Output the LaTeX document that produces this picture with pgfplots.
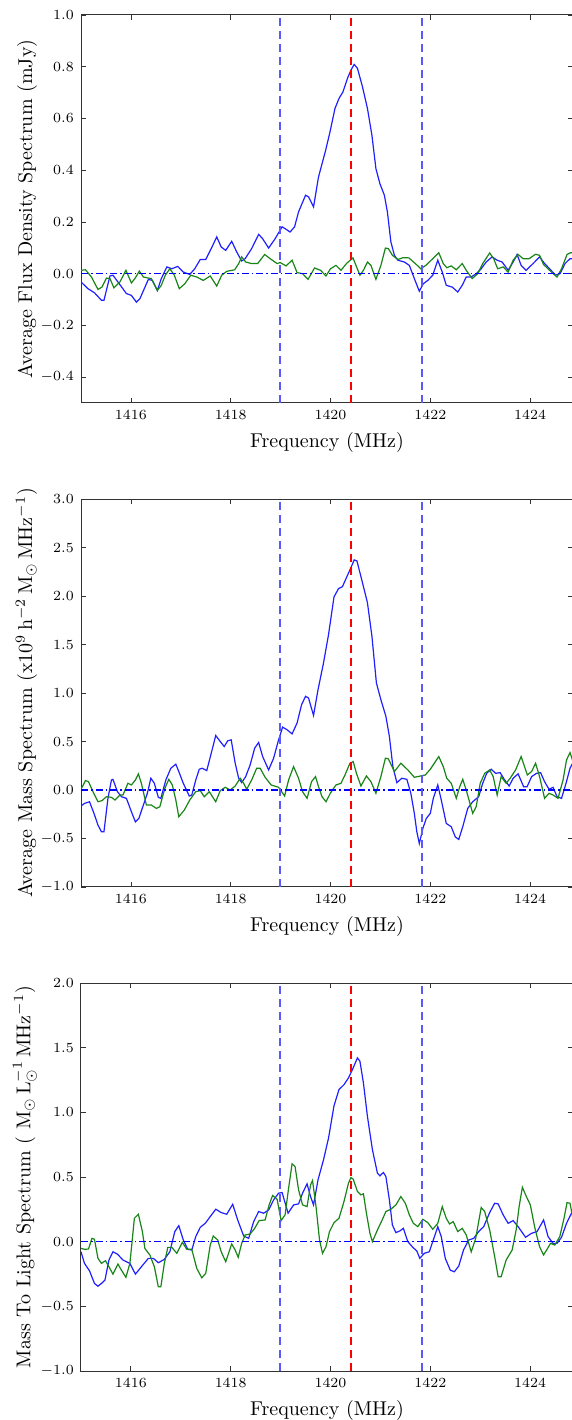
\documentclass[border=0pt]{standalone}
\usepackage{pgfplots}
\pgfplotsset{compat=1.18}

\definecolor{mplblue}{rgb}{0.12,0.12,1}
\definecolor{mplgreen}{rgb}{0.1,0.52,0.1}
\definecolor{lineblue}{rgb}{0.35,0.35,1}

\pgfplotsset{
  spec/.style={
    scale only axis, width=246pt, height=194pt,
    anchor=south west,
    xmin=1415, xmax=1424.86,
    xtick={1416,1418,1420,1422,1424},
    x tick label style={/pgf/number format/1000 sep={}},
    y tick label style={/pgf/number format/.cd, fixed, fixed zerofill, precision=1},
    tick label style={font=\fontsize{7}{8}\selectfont},
    label style={font=\fontsize{10}{12}\selectfont},
    xlabel={Frequency (MHz)},
    ylabel shift=-5pt,
    major tick length=2.5pt,
    tick style={black!80, line width=0.4pt},
    axis line style={black!80, line width=0.5pt},
    no markers,
  },
  curve/.style={line width=0.6pt},
  bound/.style={lineblue, line width=0.8pt, dash pattern=on 4pt off 2.5pt},
  centre/.style={red, line width=0.7pt, dash pattern=on 4pt off 2.5pt},
  zero/.style={blue, line width=0.8pt, dash pattern=on 3.5pt off 1.5pt on 0.8pt off 1.5pt},
}

\begin{document}
\begin{tikzpicture}
\path[use as bounding box] (0,0) rectangle (286pt,710pt);

% --- flux density ---
\begin{axis}[spec, at={(40.5pt,508.5pt)},
  ymin=-0.5, ymax=1.0, ytick={-0.4,-0.2,0,0.2,0.4,0.6,0.8,1.0},
  ylabel={Average Flux Density Spectrum (mJy)}]
\addplot[curve, mplblue] coordinates {
(1415.00,-0.032)(1415.14,-0.058)(1415.27,-0.074)(1415.41,-0.103)(1415.46,-0.103)(1415.58,-0.009)(1415.64,-0.006)(1415.74,-0.032)(1415.91,-0.077)(1416.01,-0.084)(1416.11,-0.110)(1416.18,-0.097)(1416.35,-0.022)(1416.43,-0.026)(1416.53,-0.065)(1416.61,-0.019)(1416.72,0.026)(1416.82,0.019)(1416.94,0.028)(1417.05,0.006)(1417.18,-0.003)(1417.28,0.019)(1417.39,0.055)(1417.50,0.055)(1417.61,0.097)(1417.72,0.142)(1417.81,0.103)(1417.90,0.090)(1418.02,0.125)(1418.12,0.084)(1418.22,0.049)(1418.29,0.058)(1418.42,0.097)(1418.56,0.152)(1418.64,0.135)(1418.76,0.099)(1418.89,0.135)(1419.03,0.181)(1419.09,0.174)(1419.19,0.161)(1419.28,0.181)(1419.36,0.239)(1419.50,0.303)(1419.56,0.297)(1419.66,0.258)(1419.76,0.374)(1419.90,0.475)(1419.99,0.548)(1420.09,0.639)(1420.17,0.677)(1420.25,0.703)(1420.34,0.755)(1420.41,0.787)(1420.475,0.809)(1420.54,0.794)(1420.64,0.723)(1420.74,0.639)(1420.83,0.535)(1420.91,0.406)(1420.99,0.348)(1421.08,0.303)(1421.14,0.239)(1421.21,0.123)(1421.28,0.071)(1421.35,0.052)(1421.48,0.045)(1421.58,0.032)(1421.68,-0.019)(1421.78,-0.068)(1421.86,-0.039)(1421.95,-0.026)(1422.05,-0.006)(1422.15,0.052)(1422.24,0.006)(1422.32,-0.045)(1422.44,-0.052)(1422.55,-0.071)(1422.64,-0.045)(1422.72,-0.013)(1422.82,-0.013)(1422.92,0.0)(1423.02,0.019)(1423.12,0.045)(1423.24,0.065)(1423.34,0.052)(1423.44,0.045)(1423.56,0.013)(1423.66,0.045)(1423.74,0.074)(1423.82,0.032)(1423.92,0.013)(1424.06,0.039)(1424.19,0.065)(1424.29,0.039)(1424.39,0.019)(1424.51,-0.006)(1424.60,0.0)(1424.70,0.039)(1424.80,0.058)(1424.87,0.058)
};
\addplot[curve, mplgreen] coordinates {
(1415.00,0.013)(1415.09,0.015)(1415.21,-0.013)(1415.34,-0.061)(1415.42,-0.052)(1415.51,-0.017)(1415.58,-0.019)(1415.66,-0.055)(1415.78,-0.032)(1415.90,0.013)(1416.01,-0.036)(1416.08,-0.019)(1416.17,0.010)(1416.25,-0.013)(1416.35,-0.017)(1416.41,-0.019)(1416.53,-0.065)(1416.61,-0.045)(1416.69,-0.006)(1416.78,0.019)(1416.87,-0.006)(1416.97,-0.058)(1417.08,-0.039)(1417.20,-0.006)(1417.32,-0.013)(1417.45,-0.026)(1417.59,-0.009)(1417.72,-0.048)(1417.82,-0.006)(1417.92,0.009)(1418.08,0.015)(1418.16,0.039)(1418.22,0.065)(1418.30,0.045)(1418.42,0.039)(1418.54,0.039)(1418.68,0.074)(1418.79,0.058)(1418.93,0.039)(1418.99,0.043)(1419.11,0.030)(1419.23,0.052)(1419.33,0.004)(1419.44,0.0)(1419.55,-0.022)(1419.68,0.022)(1419.80,0.013)(1419.91,-0.009)(1420.00,0.019)(1420.11,0.032)(1420.21,0.013)(1420.32,0.039)(1420.45,0.061)(1420.59,-0.006)(1420.66,0.013)(1420.74,0.045)(1420.81,0.032)(1420.91,-0.022)(1421.01,0.032)(1421.10,0.099)(1421.16,0.097)(1421.24,0.071)(1421.35,0.055)(1421.46,0.062)(1421.57,0.061)(1421.70,0.039)(1421.81,0.019)(1421.91,0.032)(1422.05,0.058)(1422.17,0.081)(1422.26,0.039)(1422.33,0.023)(1422.42,0.030)(1422.52,0.015)(1422.64,0.039)(1422.72,0.013)(1422.84,-0.019)(1422.95,0.0)(1423.05,0.039)(1423.19,0.080)(1423.27,0.058)(1423.35,0.019)(1423.46,0.026)(1423.56,0.006)(1423.66,0.052)(1423.76,0.074)(1423.86,0.058)(1423.98,0.058)(1424.11,0.075)(1424.19,0.071)(1424.27,0.035)(1424.36,0.019)(1424.46,0.0)(1424.54,-0.013)(1424.63,0.019)(1424.74,0.074)(1424.81,0.081)(1424.87,0.080)
};
\addplot[zero] coordinates {(1415,0) (1424.86,0)};
\addplot[bound] coordinates {(1418.99,-0.5) (1418.99,1.0)};
\addplot[bound] coordinates {(1421.83,-0.5) (1421.83,1.0)};
\addplot[centre] coordinates {(1420.41,-0.5) (1420.41,1.0)};
\end{axis}

% --- mass ---
\begin{axis}[spec, at={(40.5pt,266.5pt)},
  ymin=-1.0, ymax=3.0, ytick={-1.0,-0.5,0,0.5,1.0,1.5,2.0,2.5,3.0},
  ylabel={Average Mass Spectrum ($\mathrm{x10^{9}\,h^{-2}\,M_{\odot}\,MHz^{-1}}$)}]
\addplot[curve, mplblue] coordinates {
(1415.00,-0.166)(1415.07,-0.138)(1415.17,-0.121)(1415.26,-0.241)(1415.34,-0.362)(1415.41,-0.431)(1415.46,-0.431)(1415.54,-0.086)(1415.61,0.103)(1415.64,0.110)(1415.73,-0.017)(1415.81,-0.069)(1415.91,-0.086)(1416.01,-0.224)(1416.09,-0.328)(1416.16,-0.293)(1416.25,-0.155)(1416.33,-0.034)(1416.40,0.121)(1416.47,0.069)(1416.55,-0.076)(1416.60,-0.086)(1416.70,0.103)(1416.80,0.224)(1416.90,0.266)(1416.96,0.190)(1417.05,0.069)(1417.17,-0.062)(1417.22,-0.052)(1417.30,0.103)(1417.37,0.214)(1417.43,0.224)(1417.52,0.200)(1417.61,0.379)(1417.70,0.562)(1417.79,0.500)(1417.87,0.448)(1417.94,0.507)(1418.01,0.517)(1418.09,0.276)(1418.16,0.121)(1418.22,0.076)(1418.30,0.138)(1418.39,0.259)(1418.48,0.431)(1418.56,0.490)(1418.64,0.345)(1418.76,0.207)(1418.86,0.328)(1418.95,0.500)(1419.04,0.648)(1419.13,0.621)(1419.23,0.579)(1419.33,0.690)(1419.42,0.879)(1419.50,0.966)(1419.56,0.948)(1419.66,0.769)(1419.75,1.034)(1419.86,1.310)(1419.96,1.600)(1420.07,1.990)(1420.16,2.076)(1420.24,2.097)(1420.32,2.190)(1420.41,2.293)(1420.475,2.372)(1420.53,2.362)(1420.64,2.138)(1420.74,1.931)(1420.83,1.586)(1420.92,1.103)(1421.01,0.931)(1421.11,0.759)(1421.18,0.552)(1421.25,0.241)(1421.33,0.076)(1421.43,0.121)(1421.53,0.110)(1421.61,-0.034)(1421.68,-0.241)(1421.73,-0.431)(1421.78,-0.552)(1421.85,-0.397)(1421.92,-0.293)(1422.00,-0.241)(1422.06,-0.086)(1422.15,0.052)(1422.22,-0.103)(1422.32,-0.345)(1422.42,-0.379)(1422.50,-0.483)(1422.57,-0.510)(1422.65,-0.379)(1422.75,-0.190)(1422.85,-0.121)(1422.97,-0.069)(1423.05,0.069)(1423.13,0.172)(1423.22,0.214)(1423.31,0.172)(1423.40,0.179)(1423.49,0.103)(1423.58,0.041)(1423.66,0.121)(1423.76,0.166)(1423.87,0.034)(1423.94,0.034)(1424.03,0.138)(1424.13,0.172)(1424.21,0.179)(1424.29,0.086)(1424.38,0.007)(1424.46,0.028)(1424.54,-0.069)(1424.63,-0.086)(1424.72,0.069)(1424.80,0.224)(1424.87,0.293)
};
\addplot[curve, mplgreen] coordinates {
(1415.00,0.007)(1415.09,0.097)(1415.15,0.086)(1415.24,-0.017)(1415.34,-0.121)(1415.42,-0.110)(1415.51,-0.069)(1415.61,-0.076)(1415.68,-0.103)(1415.78,-0.052)(1415.84,-0.052)(1415.94,0.069)(1416.01,0.052)(1416.09,0.103)(1416.15,0.166)(1416.21,0.069)(1416.31,-0.155)(1416.41,-0.155)(1416.51,-0.190)(1416.58,-0.172)(1416.68,0.017)(1416.76,0.110)(1416.83,0.052)(1416.90,-0.103)(1416.96,-0.276)(1417.07,-0.207)(1417.18,-0.103)(1417.30,-0.017)(1417.39,-0.007)(1417.47,-0.069)(1417.57,-0.017)(1417.70,-0.121)(1417.79,-0.007)(1417.89,0.028)(1417.99,0.0)(1418.09,0.041)(1418.19,0.121)(1418.26,0.069)(1418.32,0.007)(1418.42,0.103)(1418.52,0.224)(1418.59,0.224)(1418.69,0.131)(1418.81,0.052)(1418.96,0.028)(1419.08,-0.062)(1419.16,0.103)(1419.26,0.241)(1419.36,0.121)(1419.44,-0.017)(1419.53,-0.086)(1419.62,0.086)(1419.70,0.138)(1419.76,0.034)(1419.83,-0.069)(1419.91,-0.121)(1420.00,-0.030)(1420.11,0.052)(1420.21,0.069)(1420.29,0.155)(1420.39,0.276)(1420.455,0.293)(1420.52,0.172)(1420.61,0.041)(1420.72,0.145)(1420.81,0.086)(1420.91,-0.034)(1421.01,0.138)(1421.10,0.328)(1421.16,0.321)(1421.28,0.190)(1421.41,0.276)(1421.55,0.207)(1421.68,0.131)(1421.81,0.145)(1421.90,0.155)(1422.00,0.214)(1422.08,0.276)(1422.17,0.345)(1422.26,0.241)(1422.33,0.121)(1422.42,0.069)(1422.52,-0.086)(1422.59,0.034)(1422.65,0.110)(1422.72,0.0)(1422.85,-0.241)(1422.92,-0.172)(1423.00,0.069)(1423.09,0.172)(1423.19,0.207)(1423.26,0.138)(1423.34,-0.052)(1423.42,0.138)(1423.52,0.069)(1423.60,0.121)(1423.71,0.207)(1423.82,0.345)(1423.945,0.155)(1424.03,0.190)(1424.11,0.276)(1424.19,0.138)(1424.29,-0.086)(1424.38,-0.034)(1424.46,-0.052)(1424.56,-0.086)(1424.66,0.103)(1424.73,0.310)(1424.80,0.386)(1424.87,0.276)
};
\addplot[zero] coordinates {(1415,0) (1424.86,0)};
\addplot[bound] coordinates {(1418.99,-1.0) (1418.99,3.0)};
\addplot[bound] coordinates {(1421.83,-1.0) (1421.83,3.0)};
\addplot[centre] coordinates {(1420.41,-1.0) (1420.41,3.0)};
\end{axis}

% --- mass to light ---
\begin{axis}[spec, at={(40.5pt,24.5pt)},
  ymin=-1.0, ymax=2.0, ytick={-1.0,-0.5,0,0.5,1.0,1.5,2.0},
  ylabel={Mass To Light Spectrum ( $\mathrm{M_{\odot}\,L_{\odot}^{-1}\,MHz^{-1}}$)}]
\addplot[curve, mplblue] coordinates {
(1415.00,-0.078)(1415.07,-0.168)(1415.17,-0.225)(1415.27,-0.323)(1415.34,-0.344)(1415.41,-0.323)(1415.48,-0.297)(1415.56,-0.142)(1415.64,-0.078)(1415.73,-0.096)(1415.84,-0.142)(1415.98,-0.168)(1416.09,-0.251)(1416.21,-0.194)(1416.35,-0.129)(1416.45,-0.129)(1416.55,-0.163)(1416.67,-0.137)(1416.78,-0.078)(1416.88,0.078)(1416.96,0.124)(1417.05,0.013)(1417.14,-0.059)(1417.22,-0.065)(1417.30,0.039)(1417.39,0.111)(1417.49,0.142)(1417.59,0.194)(1417.70,0.251)(1417.81,0.225)(1417.92,0.212)(1418.04,0.289)(1418.14,0.168)(1418.26,0.044)(1418.36,0.026)(1418.46,0.155)(1418.56,0.233)(1418.66,0.220)(1418.76,0.245)(1418.86,0.323)(1418.96,0.375)(1419.03,0.380)(1419.15,0.220)(1419.26,0.284)(1419.36,0.292)(1419.44,0.375)(1419.53,0.447)(1419.60,0.349)(1419.66,0.284)(1419.75,0.478)(1419.86,0.633)(1419.96,0.800)(1420.07,1.050)(1420.17,1.176)(1420.27,1.214)(1420.36,1.266)(1420.44,1.331)(1420.54,1.421)(1420.59,1.395)(1420.66,1.227)(1420.74,0.969)(1420.84,0.711)(1420.94,0.530)(1420.99,0.509)(1421.06,0.535)(1421.11,0.504)(1421.18,0.323)(1421.24,0.129)(1421.31,0.070)(1421.39,0.083)(1421.46,0.103)(1421.55,0.0)(1421.65,-0.044)(1421.73,-0.072)(1421.79,-0.129)(1421.88,-0.090)(1421.98,-0.078)(1422.06,0.013)(1422.15,0.116)(1422.22,0.039)(1422.30,-0.129)(1422.40,-0.220)(1422.48,-0.233)(1422.57,-0.189)(1422.665,-0.065)(1422.77,0.013)(1422.87,0.026)(1422.97,0.078)(1423.07,0.116)(1423.19,0.225)(1423.29,0.297)(1423.36,0.292)(1423.46,0.207)(1423.56,0.142)(1423.66,0.163)(1423.76,0.116)(1423.91,0.034)(1424.03,0.065)(1424.14,0.078)(1424.27,0.168)(1424.36,0.039)(1424.46,-0.013)(1424.54,-0.013)(1424.63,0.034)(1424.73,0.142)(1424.83,0.220)(1424.87,0.220)
};
\addplot[curve, mplgreen] coordinates {
(1415.00,-0.052)(1415.07,-0.059)(1415.15,-0.057)(1415.22,0.026)(1415.27,0.018)(1415.34,-0.129)(1415.41,-0.168)(1415.49,-0.147)(1415.56,-0.194)(1415.64,-0.251)(1415.74,-0.173)(1415.81,-0.220)(1415.90,-0.276)(1415.98,-0.168)(1416.07,0.181)(1416.15,0.212)(1416.23,0.078)(1416.28,-0.052)(1416.38,-0.103)(1416.47,-0.194)(1416.55,-0.349)(1416.60,-0.349)(1416.67,-0.168)(1416.74,-0.044)(1416.82,-0.044)(1416.92,-0.090)(1417.03,-0.005)(1417.12,-0.059)(1417.22,-0.059)(1417.32,-0.207)(1417.42,-0.279)(1417.50,-0.245)(1417.59,-0.026)(1417.65,0.044)(1417.74,0.013)(1417.81,-0.078)(1417.90,-0.155)(1418.02,-0.018)(1418.09,-0.065)(1418.15,-0.121)(1418.22,-0.013)(1418.29,0.052)(1418.39,0.059)(1418.48,0.103)(1418.57,0.163)(1418.69,0.168)(1418.77,0.284)(1418.84,0.357)(1418.93,0.328)(1419.01,0.163)(1419.09,0.207)(1419.16,0.413)(1419.23,0.602)(1419.29,0.581)(1419.36,0.401)(1419.44,0.284)(1419.53,0.271)(1419.60,0.439)(1419.64,0.473)(1419.71,0.271)(1419.78,0.013)(1419.84,-0.090)(1419.91,-0.039)(1419.98,0.078)(1420.07,0.147)(1420.17,0.181)(1420.27,0.310)(1420.36,0.452)(1420.41,0.496)(1420.455,0.483)(1420.54,0.388)(1420.61,0.362)(1420.66,0.370)(1420.72,0.220)(1420.79,0.065)(1420.84,0.0)(1420.94,0.090)(1421.03,0.163)(1421.11,0.233)(1421.21,0.251)(1421.31,0.284)(1421.41,0.349)(1421.50,0.297)(1421.58,0.207)(1421.66,0.142)(1421.75,0.116)(1421.85,0.173)(1421.95,0.147)(1422.05,0.096)(1422.15,0.142)(1422.24,0.271)(1422.32,0.181)(1422.385,0.137)(1422.46,0.155)(1422.55,0.078)(1422.64,0.103)(1422.72,0.052)(1422.82,-0.078)(1422.91,0.026)(1423.02,0.264)(1423.09,0.233)(1423.19,0.090)(1423.29,-0.116)(1423.36,-0.271)(1423.42,-0.271)(1423.52,-0.142)(1423.64,-0.065)(1423.72,0.090)(1423.78,0.271)(1423.845,0.421)(1423.925,0.349)(1424.005,0.284)(1424.09,0.116)(1424.19,-0.039)(1424.27,-0.103)(1424.33,-0.065)(1424.41,-0.013)(1424.495,-0.026)(1424.595,0.039)(1424.68,0.181)(1424.74,0.302)(1424.80,0.297)(1424.87,0.155)
};
\addplot[zero] coordinates {(1415,0) (1424.86,0)};
\addplot[bound] coordinates {(1418.99,-1.0) (1418.99,2.0)};
\addplot[bound] coordinates {(1421.83,-1.0) (1421.83,2.0)};
\addplot[centre] coordinates {(1420.41,-1.0) (1420.41,2.0)};
\end{axis}
\end{tikzpicture}
\end{document}
